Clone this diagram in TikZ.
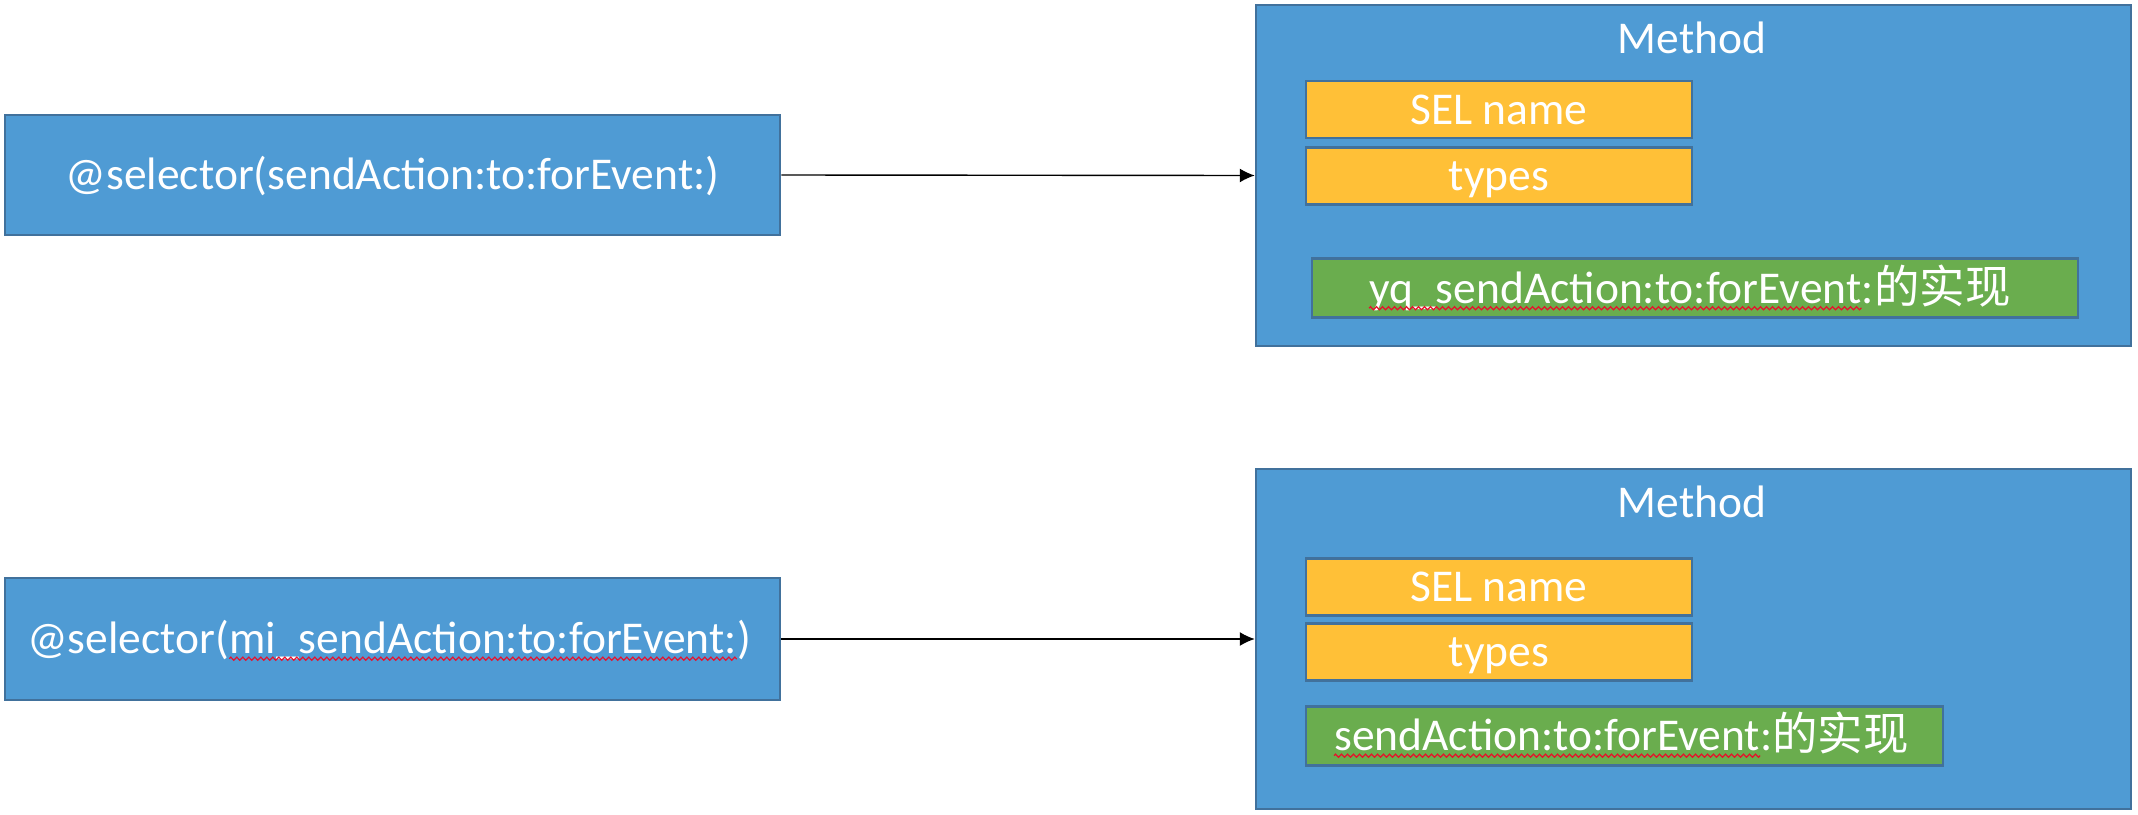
\documentclass[tikz,border=0pt]{standalone}
\usepackage{fontspec}
\setmainfont{Carlito}
\newfontfamily\cjk{Noto Sans CJK SC}
\usetikzlibrary{arrows.meta,decorations.pathmorphing}
\definecolor{boxblue}{HTML}{4F9BD4}
\definecolor{boxedge}{HTML}{41719C}
\definecolor{selorange}{HTML}{FFC037}
\definecolor{implgreen}{HTML}{6AAD4E}
\definecolor{squigred}{HTML}{E8102A}
\tikzset{
  txt/.style={text=white, font=\fontsize{45.5}{54}\selectfont, text height=29pt, text depth=0pt, inner sep=0pt},
  part/.style={txt, anchor=base west},
  selbox/.style={txt, draw=boxedge, fill=boxblue, line width=2.5pt, minimum width=775pt, minimum height=120pt},
  methodbox/.style={draw=boxedge, fill=boxblue, line width=2.5pt, minimum width=875pt, minimum height=340pt, inner sep=0pt},
  fieldbox/.style={txt, draw=boxedge, fill=selorange, line width=2.5pt, minimum width=386pt, minimum height=57pt},
  implbox/.style={txt, draw=boxedge, fill=implgreen, line width=2.5pt, minimum height=59pt},
  link/.style={draw=black, line width=1.4pt, -{Latex[length=15pt,width=14pt]}},
  wave/.style={draw=squigred, line width=1.2pt, decorate, decoration={zigzag, segment length=6pt, amplitude=1.6pt}}
}
\begin{document}
\begin{tikzpicture}[x=1pt,y=-1pt]
\useasboundingbox (0,0) rectangle (2138,814);
% top row
\node[selbox] (s1) at (392.5,175) {@selector(sendAction:to:forEvent:)};
\node[methodbox, minimum height=341pt] (m1) at (1693.5,175.5) {};
\node[txt] (t1) at (1692,38.5) {Method};
\node[fieldbox] (n1) at (1499,109.5) {SEL name};
\node[fieldbox] (y1) at (1499,176) {types};
\node[implbox, minimum width=766pt] (i1) at (1695,288) {};
\node[part] (i1a) at (1369,303) {yq\_sendAction:to:forEvent};
\node[part] (i1b) at (i1a.base east) {:{\cjk 的实现}};
\draw[wave] ([yshift=-5pt]i1a.south west) -- ([yshift=-5pt]i1a.south east);
\draw[link] (s1.east) -- (m1.west);
% bottom row
\node[selbox, minimum height=122pt] (s2) at (392.5,639) {};
\node[part] (s2a) at (27,653.5) {@selector(};
\node[part] (s2b) at (s2a.base east) {mi\_sendAction:to:forEvent:};
\node[part] (s2c) at (s2b.base east) {)};
\draw[wave] ([yshift=-5pt]s2b.south west) -- ([yshift=-5pt]s2b.south east);
\node[methodbox] (m2) at (1693.5,639) {};
\node[txt] (t2) at (1692,502.5) {Method};
\node[fieldbox] (n2) at (1499,587) {SEL name};
\node[fieldbox] (y2) at (1499,652) {types};
\node[implbox, minimum width=637pt] (i2) at (1624.5,736) {};
\node[part] (i2a) at (1334,750.5) {sendAction:to:forEvent};
\node[part] (i2b) at (i2a.base east) {:{\cjk 的实现}};
\draw[wave] ([yshift=-5pt]i2a.south west) -- ([yshift=-5pt]i2a.south east);
\draw[link] (s2.east) -- (m2.west);
\end{tikzpicture}
\end{document}
